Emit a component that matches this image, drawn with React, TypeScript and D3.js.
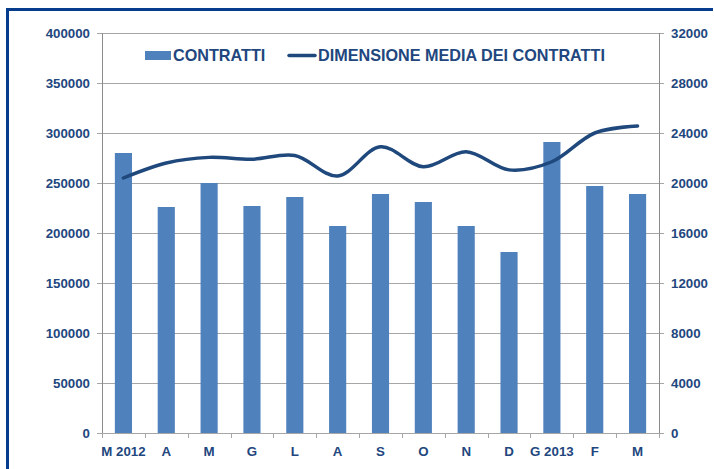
import React from "react";
import * as d3 from "d3";

const categories = ["M 2012", "A", "M", "G", "L", "A ", "S", "O", "N", "D", "G 2013", "F", "M "];
const contratti = [280000, 226000, 250000, 227000, 236000, 207000, 239000, 231000, 207000, 181000, 291000, 247000, 239000];
const dimensione = [20400, 21600, 22050, 21900, 22200, 20560, 22900, 21300, 22500, 21050, 21700, 24000, 24560];
const leftTicks = [0, 50000, 100000, 150000, 200000, 250000, 300000, 350000, 400000];
const rightTicks = [0, 4000, 8000, 12000, 16000, 20000, 24000, 28000, 32000];

const W = 714, H = 469;
const left = 102, right = 659, top = 33, bottom = 433;
const textColor = "#22467E";
const barColor = "#4F81BD";
const lineColor = "#1F487C";
const font = "Liberation Sans, Arial, sans-serif";

export default function App() {
  const x = d3.scaleBand<string>().domain(categories).range([left, right]).paddingInner(0.6).paddingOuter(0.3);
  const yL = d3.scaleLinear().domain([0, 400000]).range([bottom, top]);
  const yR = d3.scaleLinear().domain([0, 32000]).range([bottom, top]);
  const cx = (c: string) => (x(c) as number) + x.bandwidth() / 2;
  const line = d3.line<number>()
    .x((_, i) => cx(categories[i]))
    .y((d) => yR(d))
    .curve(d3.curveCatmullRom.alpha(0.5));
  const boundaries = d3.range(categories.length + 1).map((i) => left + ((right - left) * i) / categories.length);

  return (
    <svg width={W} height={H} style={{ position: "absolute", left: 0, top: 0, background: "#fff" }}>
      <rect x={0} y={0} width={W} height={H} fill="#fff" />
      {/* frame */}
      <line x1={7.5} x2={7.5} y1={8} y2={H} stroke="#063C8C" strokeWidth={3} />
      <line x1={6} x2={713} y1={9.5} y2={9.5} stroke="#063C8C" strokeWidth={3} />
      {/* gridlines */}
      {leftTicks.map((t) => (
        <line key={"g" + t} x1={left - 5} x2={right} y1={Math.round(yL(t)) + 0.5} y2={Math.round(yL(t)) + 0.5} stroke="#A6A6A6" strokeWidth={1} />
      ))}
      {rightTicks.map((t) => (
        <line key={"rt" + t} x1={right} x2={right + 5} y1={Math.round(yR(t)) + 0.5} y2={Math.round(yR(t)) + 0.5} stroke="#A6A6A6" strokeWidth={1} />
      ))}
      {/* axes */}
      <line x1={left + 0.5} x2={left + 0.5} y1={top} y2={bottom + 5} stroke="#8C8C8C" />
      <line x1={right + 0.5} x2={right + 0.5} y1={top} y2={bottom + 5} stroke="#8C8C8C" />
      {boundaries.map((b, i) => (
        <line key={"xb" + i} x1={Math.round(b) + 0.5} x2={Math.round(b) + 0.5} y1={bottom} y2={bottom + 5} stroke="#A6A6A6" />
      ))}
      {/* bars */}
      {contratti.map((v, i) => (
        <rect key={"b" + i} x={x(categories[i])} y={yL(v)} width={x.bandwidth()} height={bottom - yL(v)} fill={barColor} />
      ))}
      {/* line */}
      <path d={line(dimensione) || ""} fill="none" stroke={lineColor} strokeWidth={3.5} strokeLinecap="round" />
      {/* tick labels */}
      {leftTicks.map((t) => (
        <text key={"lt" + t} x={90} y={yL(t)} dy="0.35em" textAnchor="end" fontFamily={font} fontWeight="bold" fontSize={13.3} fill={textColor}>{t}</text>
      ))}
      {rightTicks.map((t) => (
        <text key={"rl" + t} x={671} y={yR(t)} dy="0.35em" textAnchor="start" fontFamily={font} fontWeight="bold" fontSize={13.3} fill={textColor}>{t}</text>
      ))}
      {categories.map((c) => (
        <text key={"xl" + c} x={cx(c)} y={451} dy="0.35em" textAnchor="middle" fontFamily={font} fontWeight="bold" fontSize={13.3} fill={textColor}>{c.trim()}</text>
      ))}
      {/* legend */}
      <rect x={145} y={51} width={26} height={9} fill={barColor} />
      <text x={173} y={55.5} dy="0.35em" fontFamily={font} fontWeight="bold" fontSize={16.2} fill={textColor}>CONTRATTI</text>
      <line x1={289} x2={315} y1={55.5} y2={55.5} stroke={lineColor} strokeWidth={3.5} strokeLinecap="round" />
      <text x={318} y={55.5} dy="0.35em" fontFamily={font} fontWeight="bold" fontSize={16.2} fill={textColor}>DIMENSIONE MEDIA DEI CONTRATTI</text>
    </svg>
  );
}
